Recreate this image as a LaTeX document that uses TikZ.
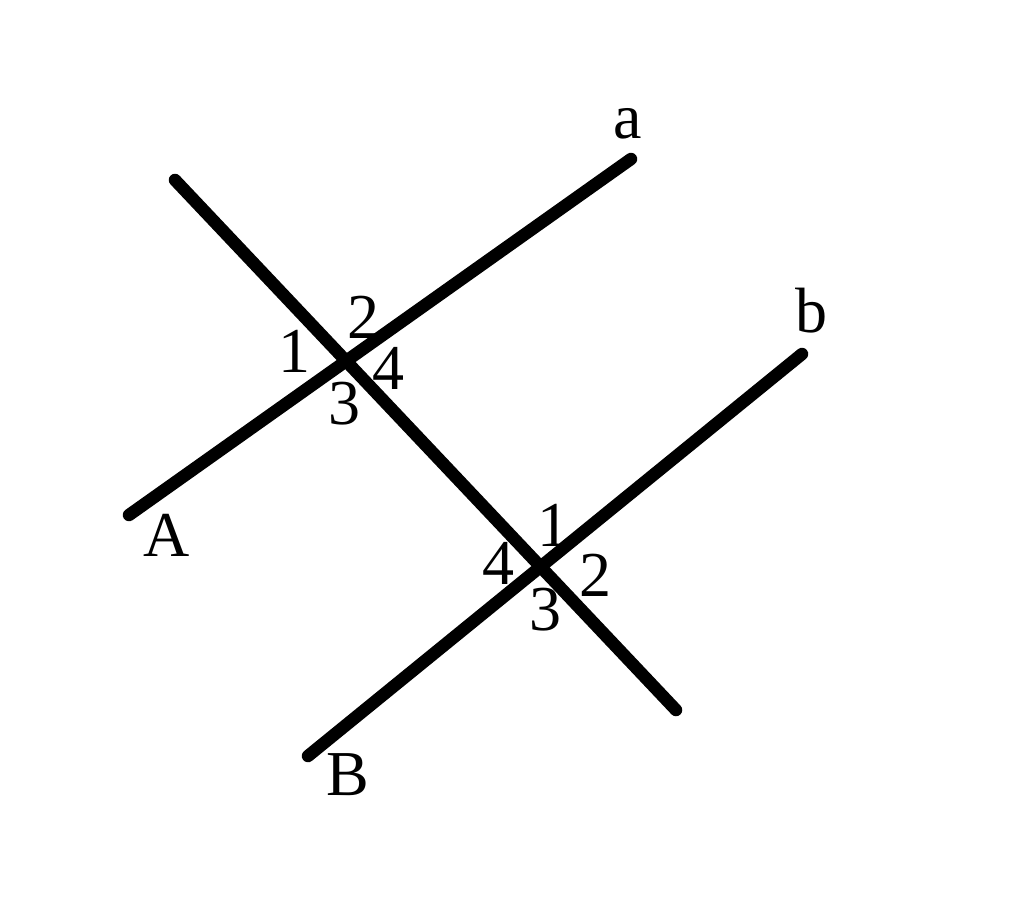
\documentclass[tikz,border=0pt]{standalone}
\usepackage{fontspec}
\setmainfont{Liberation Serif}
\begin{document}
\begin{tikzpicture}[x=1pt,y=-1pt,
  line/.style={line width=12.5pt,line cap=round},
  lab/.style={inner sep=0pt,anchor=base,font=\fontsize{64}{64}\selectfont}]
\useasboundingbox (0,0) rectangle (1024,899);
\fill[white] (0,0) rectangle (1024,899);
% end points
\coordinate (A) at (129,515);
\coordinate (a) at (631,159);
\coordinate (B) at (308,756);
\coordinate (b) at (802,354);
\coordinate (T1) at (175,180);
\coordinate (T2) at (676,710);
% lines
\draw[line] (A) -- (a);
\draw[line] (B) -- (b);
\draw[line] (T1) -- (T2);
% end labels
\node[lab] (la) at (628,138) {a};
\node[lab] (lb) at (811,332) {b};
\node[lab] (lA) at (167,556) {A};
\node[lab] (lB) at (348,795) {B};
% angle labels, first crossing
\node[lab] (p1) at (294,372) {1};
\node[lab] (p2) at (363,338) {2};
\node[lab] (p4) at (388,389) {4};
\node[lab] (p3) at (344,424) {3};
% angle labels, second crossing
\node[lab] (q1) at (553,546) {1};
\node[lab] (q4) at (498,584) {4};
\node[lab] (q2) at (595,596) {2};
\node[lab] (q3) at (545,630) {3};
\end{tikzpicture}
\end{document}
